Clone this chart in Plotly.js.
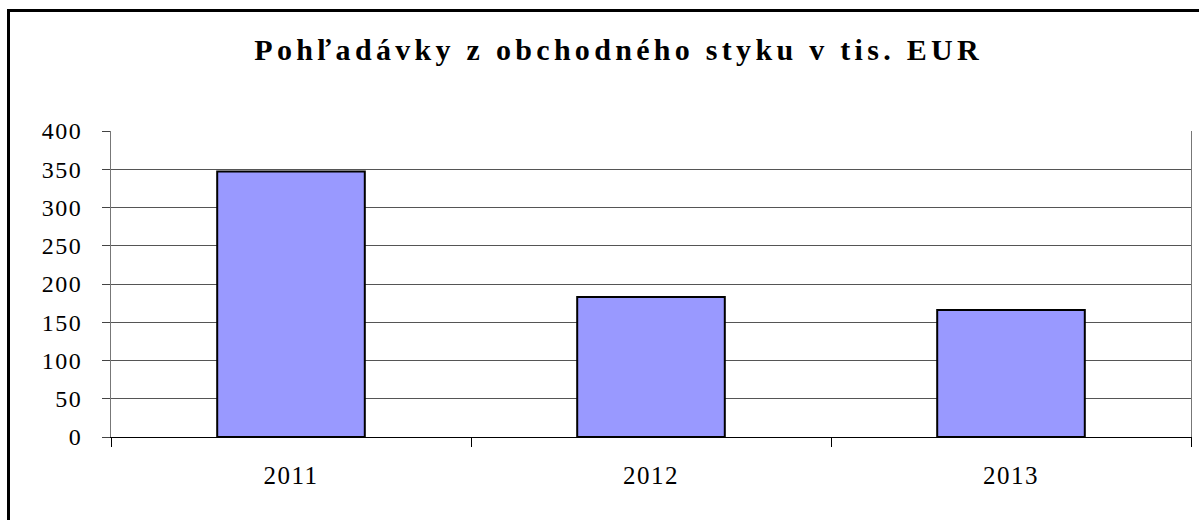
<!DOCTYPE html>
<html>
<head>
<meta charset="utf-8">
<script src="https://cdn.plot.ly/plotly-3.0.1.min.js"></script>
<style>
  html, body { margin: 0; padding: 0; background: #fff; }
  #wrap { position: relative; width: 1199px; height: 520px; overflow: hidden; }
  #frame { position: absolute; left: 7px; top: 9px; width: 1300px; height: 600px;
           border-left: 3px solid #000; border-top: 3px solid #000; pointer-events: none; z-index: 5; }
  #chart { position: absolute; left: 0; top: 0; width: 1199px; height: 520px; }
  .gtitle { letter-spacing: 4.3px; }
  .xtick text { letter-spacing: 1.5px; }
  .ytick text { letter-spacing: 1.5px; }
</style>
</head>
<body>
<div id="wrap">
  <div id="chart"></div>
  <div id="frame"></div>
</div>
<script>
const years = ['2011', '2012', '2013'];
const receivables = [347, 183, 166];
const yTicks = [0, 50, 100, 150, 200, 250, 300, 350, 400];
const titleText = 'Pohľadávky z obchodného styku v tis. EUR';

const trace = {
  type: 'bar',
  x: years,
  y: receivables,
  width: 0.41,
  marker: { color: '#9999FF', line: { color: '#000000', width: 2 } },
  hoverinfo: 'x+y'
};

const layout = {
  width: 1199,
  height: 520,
  margin: { l: 111, r: 8, t: 131, b: 83 },
  paper_bgcolor: '#ffffff',
  plot_bgcolor: '#ffffff',
  showlegend: false,
  font: { family: '"Liberation Serif", "Times New Roman", serif', color: '#000', size: 20 },
  title: {
    text: '<b>' + titleText + '</b>',
    x: 0.516, xanchor: 'center',
    y: 0.905, yanchor: 'middle',
    font: { family: '"Liberation Serif", "Times New Roman", serif', size: 30, color: '#000' }
  },
  xaxis: {
    type: 'category',
    tickson: 'boundaries',
    ticks: 'outside',
    ticklen: 9,
    tickcolor: '#000',
    tickwidth: 1,
    showline: true,
    linecolor: '#000',
    linewidth: 1,
    showgrid: false,
    ticklabelstandoff: 16,
    tickfont: { size: 25 },
    fixedrange: true
  },
  yaxis: {
    range: [0, 400],
    tickvals: yTicks,
    ticktext: yTicks.map(String),
    ticks: 'outside',
    ticklen: 8,
    tickcolor: '#444',
    showline: true,
    mirror: true,
    linecolor: '#777',
    linewidth: 1,
    showgrid: true,
    gridcolor: '#555',
    gridwidth: 1,
    zeroline: false,
    ticklabelstandoff: 15,
    tickfont: { size: 24 },
    fixedrange: true
  },
  bargap: 0.59
};

Plotly.newPlot('chart', [trace], layout, { displayModeBar: false, staticPlot: true });
</script>
</body>
</html>
